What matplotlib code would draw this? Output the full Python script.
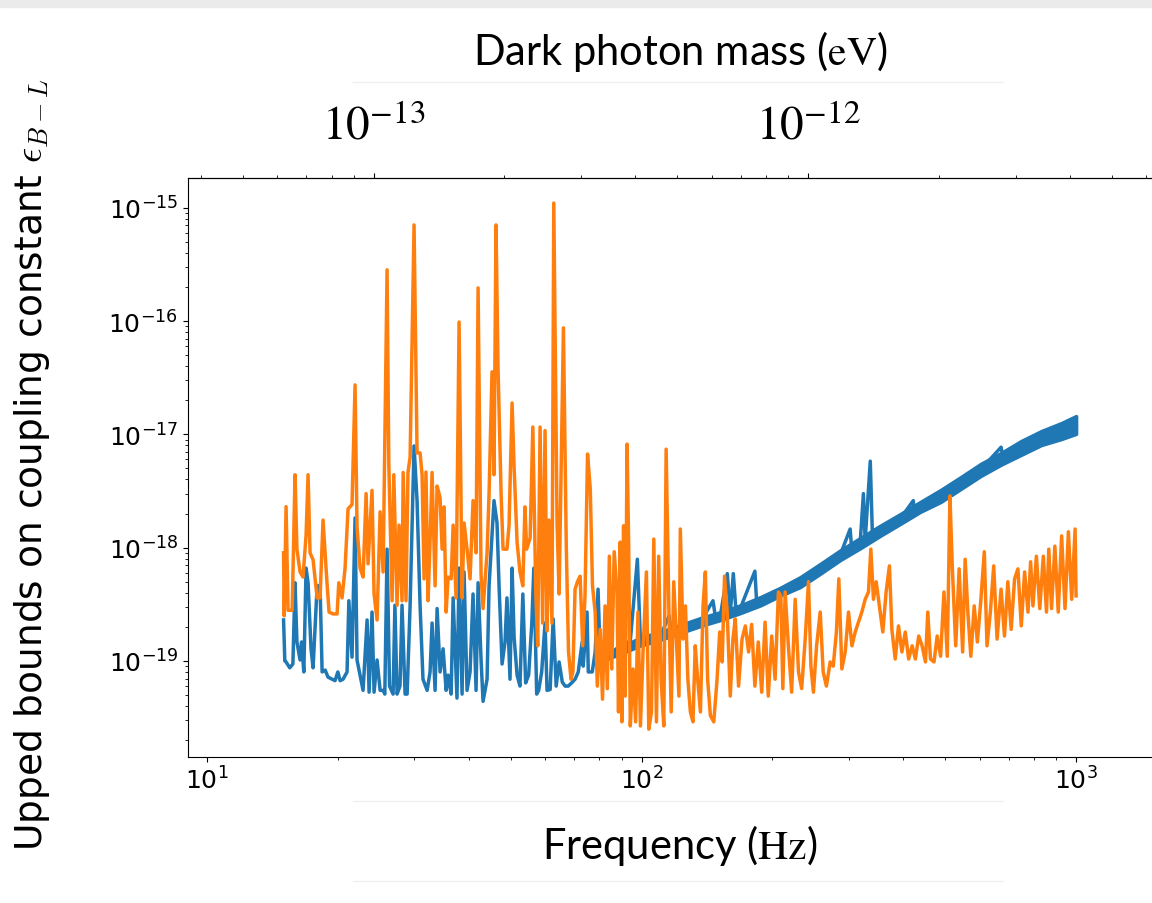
import matplotlib
matplotlib.use("Agg")
import matplotlib.pyplot as plt
from matplotlib.patches import Rectangle
from matplotlib.lines import Line2D

H_EV = 4.135667e-15  # Planck constant in eV s, frequency -> mass

# blue curve (frequency in Hz, bound)
blue_f = [15.0, 15.1, 15.2, 15.5, 15.76, 15.94, 16.1, 16.37, 16.5, 16.7, 16.9, 17.08, 17.35, 17.54,
          17.92, 18.2, 18.4, 18.7, 18.98, 19.4, 19.7, 20.0, 20.24, 20.56, 21.0, 21.2, 21.56, 21.91,
          22.14, 22.6, 22.86, 23.35, 23.6, 23.97, 24.23, 24.62, 25.02, 25.42, 25.65, 25.96, 26.3,
          26.8, 27.06, 27.37, 27.8, 28.1, 28.56, 28.87, 29.33, 29.95, 30.43, 30.92, 31.4, 32.1, 32.6,
          32.95, 33.48, 33.84, 34.38, 34.93, 35.5, 35.87, 36.45, 36.84, 37.6, 38.02, 38.63, 39.04,
          39.66, 40.3, 40.94, 41.6, 42.05, 42.72, 43.17, 44.1, 44.57, 45.27, 45.75, 46.49, 46.99,
          47.75, 48.5, 49.0, 49.8, 50.35, 50.9, 51.7, 52.5, 53.3, 54.1, 54.97, 55.9, 56.5, 57.36,
          57.97, 58.9, 59.96, 60.6, 61.6, 62.6, 63.6, 64.6, 65.7, 66.7, 67.8, 69.3, 70.3, 71.5, 73.0,
          73.4, 74.9, 75.4, 77.0, 78.2, 79.4, 80.3, 84.7, 87.9, 94.2, 97.8, 99.4, 110.5, 115.7, 117.0,
          122.8, 136.6, 146.0, 148.0, 151.8, 157.5, 160.0, 162.6, 165.0, 168.7, 182.3, 184.0, 187.5,
          208.4, 231.8, 257.7, 286.5, 302.0, 305.0, 318.5, 324.0, 327.0, 336.0, 340.0, 354.1, 393.8,
          422.0, 425.0, 438.3, 487.7, 542.7, 603.9, 672.0, 680.0, 747.9, 832.3, 926.2, 1000.0]
blue_v = [2.3e-19, 1.0e-19, 9.8e-20, 8.7e-20, 9.4e-20, 4.9e-19, 1.47e-19, 1.02e-19, 1.47e-19, 8.0e-20,
          6.6e-19, 4.9e-19, 1.28e-19, 8.7e-20, 4.6e-19, 4.6e-19, 8.0e-20, 8.3e-20, 7.2e-20, 6.9e-20,
          6.7e-20, 8.0e-20, 6.7e-20, 6.9e-20, 8.0e-20, 3.4e-19, 1.08e-19, 1.83e-18, 1.02e-19, 6.9e-20,
          5.5e-20, 2.3e-19, 5.3e-20, 2.7e-19, 5.3e-20, 1.02e-19, 5.5e-20, 5.5e-20, 5.1e-20, 9.7e-19,
          6.0e-20, 5.1e-20, 3.1e-19, 5.1e-20, 6.0e-20, 3.1e-19, 5.1e-20, 5.1e-20, 3.1e-19, 7.9e-18,
          2.6e-18, 3.1e-19, 6.9e-20, 5.5e-20, 8.0e-20, 2.16e-19, 5.5e-20, 2.9e-19, 8.0e-20, 1.28e-19,
          5.5e-20, 7.5e-20, 5.1e-20, 3.6e-19, 4.7e-20, 6.6e-19, 5.1e-20, 6.1e-19, 5.5e-20, 8.0e-20,
          3.9e-19, 5.5e-20, 4.9e-19, 1.02e-19, 4.4e-20, 6.9e-20, 4.6e-19, 1.29e-18, 2.6e-18, 1.65e-18,
          4.6e-19, 9.4e-20, 1.47e-19, 3.6e-19, 6.9e-20, 6.6e-19, 1.6e-19, 7.5e-20, 6.0e-20, 3.9e-19,
          6.4e-20, 7.5e-20, 2.16e-19, 6.6e-19, 5.1e-20, 5.5e-20, 8.0e-20, 2.16e-19, 5.5e-20, 5.6e-20,
          2.35e-19, 6.0e-20, 9.8e-20, 6.5e-20, 6.0e-20, 6.0e-20, 6.5e-20, 6.9e-20, 8.0e-20, 1.47e-19,
          9.0e-20, 2.7e-19, 8.0e-20, 8.0e-20, 1.2e-19, 4.3e-19, 1.1e-19, 1.15e-19, 1.3e-19, 1.5e-19,
          7.9e-19, 1.5e-19, 1.66e-19, 2.5e-19, 1.75e-19, 1.92e-19, 2.2e-19, 3.4e-19, 2.4e-19, 2.5e-19,
          5.9e-19, 2.6e-19, 5.9e-19, 2.7e-19, 2.9e-19, 6.2e-19, 3.3e-19, 3.4e-19, 4.06e-19, 5.0e-19,
          6.5e-19, 8.6e-19, 1.46e-18, 8.9e-19, 1.1e-18, 3.0e-18, 1.15e-18, 5.8e-18, 1.2e-18, 1.4e-18,
          1.8e-18, 2.6e-18, 2.0e-18, 2.3e-18, 2.86e-18, 3.7e-18, 4.9e-18, 7.7e-18, 6.1e-18, 7.6e-18,
          9.3e-18, 1.07e-17, 1.2e-17]

# spread of the dense blue trace above 80 Hz
band_f = [80, 89, 99, 110, 123, 137, 152, 169, 188, 208, 232, 258, 287, 319, 354, 394, 438, 488,
          543, 604, 672, 748, 832, 926, 1000]
band_lo = [9.8e-20, 1.15e-19, 1.36e-19, 1.53e-19, 1.77e-19, 2.04e-19, 2.3e-19, 2.65e-19, 3.1e-19,
           3.75e-19, 4.5e-19, 5.9e-19, 7.8e-19, 9.9e-19, 1.27e-18, 1.62e-18, 2.07e-18, 2.53e-18,
           3.3e-18, 4.3e-18, 5.4e-18, 6.6e-18, 8.05e-18, 9.1e-18, 1.01e-17]
band_hi = [1.1e-19, 1.3e-19, 1.6e-19, 1.8e-19, 2.08e-19, 2.4e-19, 2.7e-19, 3.1e-19, 3.67e-19,
           4.4e-19, 5.5e-19, 7.2e-19, 9.5e-19, 1.22e-18, 1.56e-18, 1.98e-18, 2.53e-18, 3.23e-18,
           4.2e-18, 5.5e-18, 6.85e-18, 8.75e-18, 1.07e-17, 1.26e-17, 1.45e-17]

# orange curve
orange_f = [15.0, 15.05, 15.2, 15.36, 15.7, 15.94, 16.1, 16.37, 16.63, 16.9, 17.08, 17.26, 17.54,
            17.92, 18.2, 18.49, 18.88, 19.09, 19.5, 19.92, 20.1, 20.45, 20.78, 21.11, 21.56, 21.91,
            22.14, 22.5, 22.86, 23.23, 23.47, 23.97, 24.23, 24.62, 25.02, 25.42, 25.96, 26.2, 26.66,
            26.9, 27.37, 27.66, 28.1, 28.27, 28.7, 29.0, 29.33, 29.95, 30.43, 30.92, 31.25, 31.58,
            31.9, 32.26, 32.6, 32.95, 33.48, 33.84, 34.38, 34.75, 35.12, 35.5, 35.87, 36.45, 36.84,
            37.42, 38.02, 38.63, 39.04, 39.66, 40.3, 40.94, 41.6, 42.05, 42.72, 43.17, 44.1, 44.57,
            45.27, 45.75, 46.24, 46.74, 47.5, 48.0, 49.0, 49.55, 50.35, 50.9, 51.7, 52.5, 53.3, 53.9,
            54.4, 55.4, 56.2, 57.1, 57.67, 58.4, 59.2, 59.96, 60.6, 61.2, 62.2, 62.8, 63.9, 64.6,
            66.1, 67.1, 67.9, 68.8, 69.5, 70.3, 71.2, 72.2, 73.2, 74.1, 75.1, 76.2, 77.1, 78.2, 79.1,
            80.3, 81.3, 82.4, 83.4, 84.3, 85.4, 86.5, 87.8, 88.5, 89.3, 90.1, 90.9, 91.7, 92.6, 93.4,
            94.2, 95.6, 96.9, 98.1, 99.4, 100.9, 102.6, 103.9, 105.4, 106.7, 108.2, 109.5, 110.9,
            112.5, 113.9, 115.6, 117.0, 118.6, 120.4, 121.9, 122.8, 124.6, 126.2, 127.8, 129.5,
            131.3, 132.9, 134.6, 136.6, 138.5, 140.2, 141.9, 144.0, 146.6, 149.2, 151.3, 153.3,
            155.2, 157.4, 160.0, 162.3, 164.3, 167.2, 170.3, 173.3, 176.3, 179.2, 182.3, 185.6,
            189.0, 192.4, 195.7, 199.3, 202.9, 206.5, 209.2, 211.4, 214.0, 217.7, 221.5, 225.7,
            229.7, 233.6, 238.0, 242.2, 245.3, 248.6, 252.8, 257.7, 261.8, 266.3, 271.7, 276.1,
            280.8, 284.4, 289.0, 294.2, 299.4, 304.9, 310.2, 315.7, 321.3, 327.1, 332.8, 337.0,
            341.7, 346.7, 352.7, 359.1, 365.4, 371.9, 376.7, 383.5, 390.2, 397.3, 404.5, 411.8,
            419.5, 426.7, 434.4, 442.2, 450.1, 455.7, 462.3, 471.0, 479.0, 487.7, 496.5, 505.3,
            512.5, 518.8, 528.4, 538.1, 548.2, 555.5, 563.5, 572.5, 582.8, 592.7, 603.9, 614.8,
            623.7, 634.9, 646.3, 657.9, 672.0, 684.2, 696.5, 709.0, 721.8, 734.8, 747.9, 761.3,
            775.0, 785.8, 795.7, 810.3, 825.0, 840.5, 854.8, 865.3, 878.0, 893.6, 909.7, 926.2,
            943.0, 960.0, 977.0, 994.8, 1000.0]
orange_v = [9.0e-19, 2.5e-19, 2.3e-18, 2.8e-19, 2.8e-19, 4.4e-18, 9.7e-19, 6.1e-19, 5.5e-19, 1.29e-18,
            4.4e-18, 9.0e-19, 7.8e-19, 3.6e-19, 3.6e-19, 1.75e-18, 4.9e-19, 2.7e-19, 2.6e-19, 2.6e-19,
            4.9e-19, 3.6e-19, 6.6e-19, 2.2e-18, 2.4e-18, 2.73e-17, 1.52e-18, 6.6e-19, 5.5e-19, 3.0e-18,
            7.2e-19, 3.2e-18, 3.9e-19, 2.3e-19, 2.07e-18, 6.1e-19, 2.83e-16, 5.5e-18, 3.4e-19, 4.4e-18,
            3.1e-19, 1.58e-18, 3.4e-19, 4.6e-18, 3.4e-19, 4.6e-18, 6.3e-18, 7.05e-16, 6.85e-18,
            6.85e-18, 4.4e-18, 5.3e-19, 4.65e-18, 3.4e-19, 1.12e-18, 4.6e-18, 4.6e-19, 3.5e-18,
            2.75e-18, 9.7e-19, 2.29e-18, 2.7e-19, 5.5e-19, 5.3e-19, 1.58e-18, 3.6e-19, 9.8e-17,
            3.6e-19, 1.65e-18, 9.7e-19, 5.3e-19, 2.6e-18, 9.0e-19, 1.96e-16, 5.7e-19, 2.9e-19, 9.0e-19,
            3.0e-18, 3.56e-17, 4.4e-18, 7.05e-16, 3.85e-17, 3.0e-18, 9.7e-19, 9.7e-19, 1.58e-18,
            1.89e-17, 5.05e-18, 1.12e-18, 6.1e-19, 4.6e-19, 2.29e-18, 9.7e-19, 1.22e-18, 1.16e-17,
            3.9e-19, 1.36e-19, 1.16e-17, 2.16e-19, 1.08e-17, 1.84e-19, 1.75e-18, 2.16e-19, 1.10e-15,
            1.65e-18, 3.9e-19, 8.7e-17, 1.03e-18, 1.2e-19, 6.9e-20, 8.0e-20, 4.3e-19, 5.0e-19, 5.6e-19,
            1.36e-19, 3.75e-19, 6.7e-18, 3.3e-18, 4.6e-19, 2.7e-19, 6.0e-20, 1.9e-19, 4.6e-20,
            3.06e-19, 5.7e-20, 8.4e-19, 8.5e-20, 9.2e-19, 4.06e-19, 3.55e-20, 1.12e-18, 2.9e-20,
            1.56e-18, 4.9e-20, 8.2e-18, 1.03e-18, 2.67e-20, 8.5e-20, 2.9e-20, 2.7e-19, 2.67e-20,
            1.36e-19, 6.1e-19, 2.5e-20, 3.55e-20, 1.19e-18, 2.9e-20, 8.4e-19, 6.9e-20, 2.67e-20,
            7.4e-18, 2.7e-19, 3.55e-20, 5.0e-19, 1.36e-19, 4.9e-20, 1.46e-18, 1.56e-19, 3.06e-19,
            6.9e-20, 3.55e-20, 2.9e-20, 1.36e-19, 6.9e-20, 3.55e-20, 3.06e-19, 6.1e-19, 6.9e-20,
            3.3e-20, 2.9e-20, 6.9e-20, 1.8e-19, 9.8e-20, 5.6e-19, 2.7e-19, 4.9e-20, 1.56e-19, 2.35e-19,
            6.0e-20, 1.56e-19, 2.04e-19, 1.2e-19, 2.1e-19, 6.0e-20, 1.47e-19, 5.3e-20, 2.2e-19, 4.9e-20,
            1.66e-19, 6.9e-20, 4.06e-19, 3.75e-19, 5.7e-20, 4.06e-19, 1.36e-19, 5.3e-20, 3.5e-19,
            8.0e-20, 5.7e-20, 1.56e-19, 5.0e-19, 9.0e-20, 5.3e-20, 1.36e-19, 2.7e-19, 8.0e-20, 6.0e-20,
            9.8e-20, 9.0e-20, 1.8e-19, 5.3e-19, 8.5e-20, 1.2e-19, 2.7e-19, 1.36e-19, 1.8e-19, 2.2e-19,
            2.7e-19, 3.5e-19, 4.06e-19, 9.7e-19, 3.5e-19, 5.0e-19, 3.06e-19, 1.8e-19, 4.06e-19,
            6.9e-19, 1.9e-19, 1.04e-19, 2.04e-19, 1.2e-19, 1.8e-19, 1.04e-19, 1.36e-19, 1.04e-19,
            1.66e-19, 1.36e-19, 9.8e-20, 2.7e-19, 1.04e-19, 9.8e-20, 1.66e-19, 1.1e-19, 4.06e-19,
            1.1e-19, 2.86e-18, 6.9e-19, 1.36e-19, 6.5e-19, 1.2e-19, 7.9e-19, 2.7e-19, 1.1e-19,
            3.06e-19, 1.47e-19, 3.5e-19, 9.2e-19, 1.36e-19, 2.7e-19, 6.9e-19, 1.56e-19, 4.3e-19,
            1.66e-19, 5.0e-19, 1.9e-19, 5.3e-19, 6.5e-19, 2.04e-19, 6.1e-19, 2.7e-19, 7.5e-19,
            3.06e-19, 8.4e-19, 2.9e-19, 8.4e-19, 2.7e-19, 9.7e-19, 2.9e-19, 1.03e-18, 2.7e-19,
            1.27e-18, 2.9e-19, 1.38e-18, 3.5e-19, 1.46e-18, 3.75e-19]

fig = plt.figure(figsize=(11.52, 9.04), dpi=100)

# slide background bits around the chart
fig.patches.append(Rectangle((0, 1 - 8 / 904), 1, 8 / 904, transform=fig.transFigure,
                             color='#ebebeb', zorder=0))
for yy in (83, 802, 882):
    fig.lines.append(Line2D([353 / 1152, 1003 / 1152], [1 - yy / 904, 1 - yy / 904],
                            transform=fig.transFigure, color='#f0f0f0', lw=1))

ax = fig.add_axes([0.1632, 0.1615, 0.8481, 0.6405])
ax.plot(blue_f, blue_v, color='#1f77b4', lw=2.5)
ax.fill_between(band_f, band_lo, band_hi, color='#1f77b4', lw=2.5)
ax.plot(orange_f, orange_v, color='#ff7f0e', lw=2.5)

ax.set_xscale('log')
ax.set_yscale('log')
ax.set_xlim(9.04, 1602)
ax.set_ylim(1.42e-20, 1.83e-15)
ax.tick_params(labelsize=18)

secax = ax.secondary_xaxis('top', functions=(lambda f: f * H_EV, lambda m: m / H_EV))
secax.set_xticks([1e-13, 1e-12], labels=[r'$10^{-13}$', r'$10^{-12}$'],
                 fontsize=34, math_fontfamily='stix')
secax.tick_params(axis='x', pad=18)

fig.text(680 / 1152, 1 - 51 / 904, r'Dark photon mass ($\mathrm{eV}$)', fontsize=30,
         family='Lato', math_fontfamily='stix', ha='center', va='center')
fig.text(680 / 1152, 1 - 846 / 904, r'Frequency ($\mathrm{Hz}$)', fontsize=30,
         family='Lato', math_fontfamily='stix', ha='center', va='center')
fig.text(32 / 1152, 1 - 465 / 904, r'Upped bounds on coupling constant $\epsilon_{B-L}$',
         rotation=90, fontsize=27, math_fontfamily='cm', ha='center', va='center')

fig.savefig('out.png', dpi=100)
